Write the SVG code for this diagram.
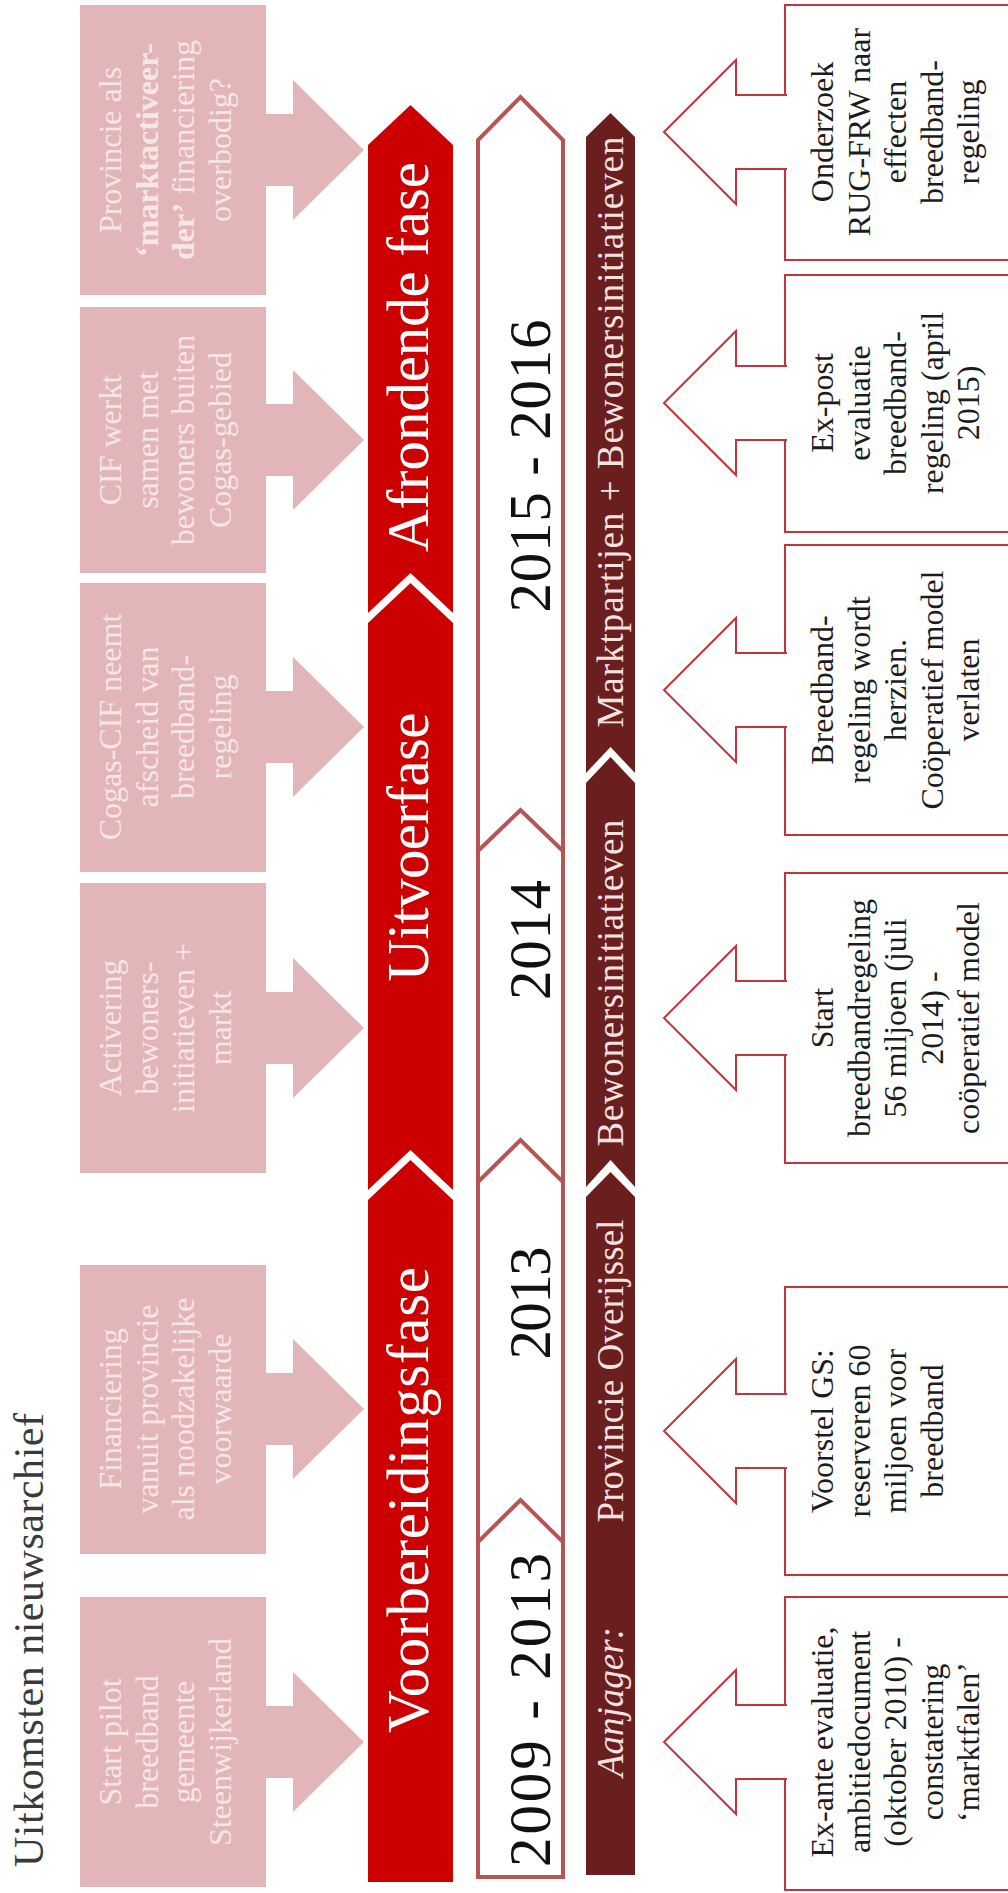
<svg xmlns="http://www.w3.org/2000/svg" width="1008" height="1893" viewBox="0 0 1008 1893">
<style>
.pink{fill:#e2b6b8}
.ptxt{font-family:"Liberation Serif",serif;font-size:32px;fill:#f7e6e6;text-anchor:middle}
.btxt{font-family:"Liberation Serif",serif;font-size:32px;fill:#1c1c1c;text-anchor:middle}
.obox{fill:#fff;stroke:#c2353d;stroke-width:2}
.oarrow{fill:#fff;stroke:#c2353d;stroke-width:2;stroke-linejoin:miter}
.red{fill:#cc0000}
.brown{fill:#6b1e1e}
.phase{font-family:"Liberation Serif",serif;font-size:59px;fill:#fff;text-anchor:middle}
.year{font-family:"Liberation Serif",serif;font-size:59px;fill:#111;text-anchor:middle}
.act{font-family:"Liberation Serif",serif;font-size:37px;fill:#f4e2e2;text-anchor:middle}
.yline{fill:none;stroke:#b65456;stroke-width:4;stroke-linejoin:miter}
</style>
<rect width="1008" height="1893" fill="#fff"/>

<g id="title">
<text transform="translate(0,1867) rotate(-90)" x="0" y="43" font-family="'Liberation Serif',serif" font-size="42" fill="#3a3a3a" textLength="454">Uitkomsten nieuwsarchief</text>
</g>

<g id="connectors">
<polygon class="pink" points="264,1706 293,1706 293,1672 364,1742 293,1812 293,1778 264,1778"/>
<polygon class="pink" points="264,1373 293,1373 293,1339 364,1409 293,1479 293,1445 264,1445"/>
<polygon class="pink" points="264,992 293,992 293,958 364,1028 293,1098 293,1064 264,1064"/>
<polygon class="pink" points="264,691 293,691 293,657 364,727 293,797 293,763 264,763"/>
<polygon class="pink" points="264,404 293,404 293,370 364,440 293,510 293,476 264,476"/>
<polygon class="pink" points="264,114 293,114 293,80 364,150 293,220 293,186 264,186"/>
</g>

<g id="pink1"><rect class="pink" x="80" y="1597" width="186" height="290"/>
<text class="ptxt" transform="translate(0,1742) rotate(-90)"><tspan x="0" y="121">Start pilot</tspan><tspan x="0" y="157.5">breedband</tspan><tspan x="0" y="194">gemeente</tspan><tspan x="0" y="230.5">Steenwijkerland</tspan></text></g>
<g id="pink2"><rect class="pink" x="80" y="1265" width="186" height="289"/>
<text class="ptxt" transform="translate(0,1409) rotate(-90)"><tspan x="0" y="121">Financiering</tspan><tspan x="0" y="157.5">vanuit provincie</tspan><tspan x="0" y="194">als noodzakelijke</tspan><tspan x="0" y="230.5">voorwaarde</tspan></text></g>
<g id="pink3"><rect class="pink" x="80" y="883" width="186" height="290"/>
<text class="ptxt" transform="translate(0,1028) rotate(-90)"><tspan x="0" y="121">Activering</tspan><tspan x="0" y="157.5">bewoners-</tspan><tspan x="0" y="194">initiatieven +</tspan><tspan x="0" y="230.5">markt</tspan></text></g>
<g id="pink4"><rect class="pink" x="80" y="583" width="186" height="289"/>
<text class="ptxt" transform="translate(0,727) rotate(-90)"><tspan x="0" y="121">Cogas-CIF neemt</tspan><tspan x="0" y="157.5">afscheid van</tspan><tspan x="0" y="194">breedband-</tspan><tspan x="0" y="230.5">regeling</tspan></text></g>
<g id="pink5"><rect class="pink" x="80" y="307" width="186" height="266"/>
<text class="ptxt" transform="translate(0,440) rotate(-90)"><tspan x="0" y="121">CIF werkt</tspan><tspan x="0" y="157.5">samen met</tspan><tspan x="0" y="194">bewoners buiten</tspan><tspan x="0" y="230.5">Cogas-gebied</tspan></text></g>
<g id="pink6"><rect class="pink" x="80" y="5" width="186" height="290"/>
<text class="ptxt" transform="translate(0,150) rotate(-90)"><tspan x="0" y="121">Provincie als</tspan><tspan x="0" y="157.5" font-weight="bold">‘marktactiveer-</tspan><tspan x="0" y="194"><tspan font-weight="bold">der’</tspan> financiering</tspan><tspan x="0" y="230.5">overbodig?</tspan></text></g>

<g id="phases">
<polygon class="red" points="368,1882 453,1882 453,1200 410.5,1160 368,1200"/>
<polygon class="red" points="368,1190 410.5,1150 453,1190 453,623 410.5,583 368,623"/>
<polygon class="red" points="368,613 410.5,573 453,613 453,145 410.5,105 368,145"/>
<text class="phase" transform="translate(0,1500) rotate(-90)" x="0" y="428" textLength="466">Voorbereidingsfase</text>
<text class="phase" transform="translate(0,847) rotate(-90)" x="0" y="428" textLength="269">Uitvoerfase</text>
<text class="phase" transform="translate(0,357) rotate(-90)" x="0" y="428" textLength="390">Afrondende fase</text>
</g>

<g id="years">
<polygon class="yline" points="478,1877 563,1877 563,140 520.5,97 478,140" fill="#fff"/>
<polyline class="yline" points="478,1542 520.5,1500 563,1542"/>
<polyline class="yline" points="478,1182 520.5,1140 563,1182"/>
<polyline class="yline" points="478,851 520.5,810 563,851"/>
<text class="year" transform="translate(0,1710) rotate(-90)" x="0" y="550" textLength="314">2009 - 2013</text>
<text class="year" transform="translate(0,1303) rotate(-90)" x="0" y="550" textLength="113">2013</text>
<text class="year" transform="translate(0,940) rotate(-90)" x="0" y="550" textLength="120">2014</text>
<text class="year" transform="translate(0,466) rotate(-90)" x="0" y="550" textLength="293">2015 - 2016</text>
</g>

<g id="aanjager">
<polygon class="brown" points="586,1875 635,1875 635,1197 610.5,1172 586,1197"/>
<polygon class="brown" points="586,1187 610.5,1160 635,1187 635,783 610.5,757 586,783"/>
<polygon class="brown" points="586,773 610.5,747 635,773 635,137 610.5,113 586,137"/>
<text class="act" transform="translate(0,1702) rotate(-90)" x="0" y="623" font-style="italic" textLength="150">Aanjager:</text>
<text class="act" transform="translate(0,1371) rotate(-90)" x="0" y="623" textLength="303">Provincie Overijssel</text>
<text class="act" transform="translate(0,983) rotate(-90)" x="0" y="623" textLength="327">Bewonersinitiatieven</text>
<text class="act" transform="translate(0,432) rotate(-90)" x="0" y="623" textLength="591">Marktpartijen + Bewonersinitiatieven</text>
</g>

<g id="box1"><rect class="obox" x="785" y="1597" width="240" height="293"/>
<text class="btxt" transform="translate(0,1742) rotate(-90)"><tspan x="0" y="833">Ex-ante evaluatie,</tspan><tspan x="0" y="869.5">ambitiedocument</tspan><tspan x="0" y="906">(oktober 2010) -</tspan><tspan x="0" y="942.5">constatering</tspan><tspan x="0" y="979">‘marktfalen’</tspan></text></g>
<g id="box2"><rect class="obox" x="785" y="1287" width="240" height="288"/>
<text class="btxt" transform="translate(0,1431) rotate(-90)"><tspan x="0" y="833">Voorstel GS:</tspan><tspan x="0" y="869.5">reserveren 60</tspan><tspan x="0" y="906">miljoen voor</tspan><tspan x="0" y="942.5">breedband</tspan></text></g>
<g id="box3"><rect class="obox" x="785" y="873" width="240" height="290"/>
<text class="btxt" transform="translate(0,1018) rotate(-90)"><tspan x="0" y="833">Start</tspan><tspan x="0" y="869.5">breedbandregeling</tspan><tspan x="0" y="906">56 miljoen (juli</tspan><tspan x="0" y="942.5">2014) -</tspan><tspan x="0" y="979">coöperatief model</tspan></text></g>
<g id="box4"><rect class="obox" x="785" y="545" width="240" height="290"/>
<text class="btxt" transform="translate(0,690) rotate(-90)"><tspan x="0" y="833">Breedband-</tspan><tspan x="0" y="869.5">regeling wordt</tspan><tspan x="0" y="906">herzien.</tspan><tspan x="0" y="942.5">Coöperatief model</tspan><tspan x="0" y="979">verlaten</tspan></text></g>
<g id="box5"><rect class="obox" x="785" y="275" width="240" height="257"/>
<text class="btxt" transform="translate(0,403) rotate(-90)"><tspan x="0" y="833">Ex-post</tspan><tspan x="0" y="869.5">evaluatie</tspan><tspan x="0" y="906">breedband-</tspan><tspan x="0" y="942.5">regeling (april</tspan><tspan x="0" y="979">2015)</tspan></text></g>
<g id="box6"><rect class="obox" x="785" y="5" width="240" height="255"/>
<text class="btxt" transform="translate(0,132) rotate(-90)"><tspan x="0" y="833">Onderzoek</tspan><tspan x="0" y="869.5">RUG-FRW naar</tspan><tspan x="0" y="906">effecten</tspan><tspan x="0" y="942.5">breedband-</tspan><tspan x="0" y="979">regeling</tspan></text></g>

<g id="connectors-out">
<path class="oarrow" d="M787,1705 H736 V1670 L664,1742 L736,1814 V1779 H787"/>
<path class="oarrow" d="M787,1394 H736 V1359 L664,1431 L736,1503 V1468 H787"/>
<path class="oarrow" d="M787,981 H736 V946 L664,1018 L736,1090 V1055 H787"/>
<path class="oarrow" d="M787,653 H736 V618 L664,690 L736,762 V727 H787"/>
<path class="oarrow" d="M787,366 H736 V331 L664,403 L736,475 V440 H787"/>
<path class="oarrow" d="M787,95 H736 V60 L664,132 L736,204 V169 H787"/>
</g>
</svg>
